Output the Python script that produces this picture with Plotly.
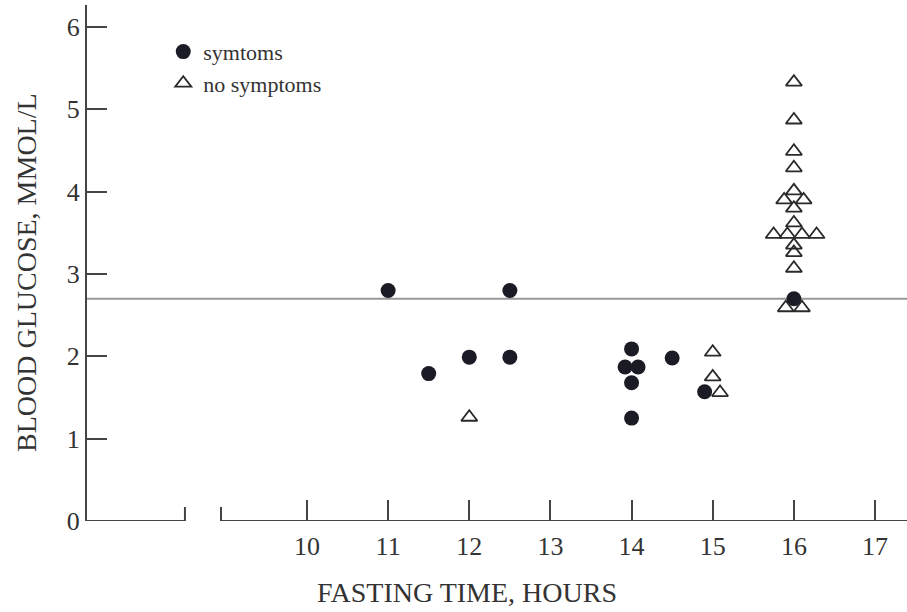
import plotly.graph_objects as go

# ---- data ----
symptoms_x = [11, 11.5, 12, 12.5, 12.5, 13.92, 14, 14, 14, 14.08, 14.5, 14.9, 16]
symptoms_y = [2.8, 1.79, 1.99, 2.8, 1.99, 1.87, 2.09, 1.68, 1.25, 1.87, 1.98, 1.57, 2.7]

no_symptoms_x = [12, 15, 15, 15.09,
                 16, 16, 16, 16, 16, 15.88, 16.12, 16, 16,
                 15.75, 15.92, 16.1, 16.28, 16, 16, 16, 15.9, 16.1]
no_symptoms_y = [1.26, 2.05, 1.75, 1.56,
                 5.33, 4.87, 4.49, 4.29, 4.01, 3.9, 3.9, 3.8, 3.62,
                 3.48, 3.48, 3.48, 3.48, 3.35, 3.26, 3.07, 2.59, 2.59]

threshold = 2.7
x_tick_vals = [10, 11, 12, 13, 14, 15, 16, 17]
y_tick_vals = [0, 1, 2, 3, 4, 5, 6]
x_title = "FASTING TIME, HOURS"
y_title = "BLOOD GLUCOSE, MMOL/L"
legend_names = ["symtoms", "no symptoms"]

# ---- layout constants ----
X_RANGE = [7.289, 17.394]
Y_RANGE = [0, 6.267]
BREAK_LEFT = 8.496
BREAK_RIGHT = 8.94
FONT = "Liberation Serif"
TXT = "#333333"
AX = "#444444"

fig = go.Figure()
fig.add_trace(go.Scatter(
    x=symptoms_x, y=symptoms_y, mode="markers", name=legend_names[0],
    marker=dict(symbol="circle", size=15, color="#1b1b26", line=dict(width=0)),
))
fig.add_trace(go.Scatter(
    x=no_symptoms_x, y=no_symptoms_y, mode="markers", name=legend_names[1],
    marker=dict(symbol="triangle-up-open", size=14, color="#2a2a2a",
                line=dict(width=1.8, color="#2a2a2a")),
))

# threshold line
fig.add_hline(y=threshold, line=dict(color="#999999", width=2), layer="below")

# broken x-axis drawn as two segments with break ticks
shapes = [
    dict(type="line", xref="x", yref="y", x0=X_RANGE[0], x1=BREAK_LEFT, y0=0, y1=0,
         line=dict(color=AX, width=2)),
    dict(type="line", xref="x", yref="y", x0=BREAK_RIGHT, x1=X_RANGE[1], y0=0, y1=0,
         line=dict(color=AX, width=2)),
    dict(type="line", xref="x", yref="y", x0=BREAK_LEFT, x1=BREAK_LEFT, y0=-0.2, y1=0.17,
         line=dict(color=AX, width=2)),
    dict(type="line", xref="x", yref="y", x0=BREAK_RIGHT, x1=BREAK_RIGHT, y0=-0.2, y1=0.17,
         line=dict(color=AX, width=2)),
]
for s in shapes:
    fig.add_shape(**s)

fig.update_xaxes(
    range=X_RANGE, tickvals=x_tick_vals, ticks="inside", ticklen=21, tickwidth=2,
    tickcolor=AX, showline=False, showgrid=False, zeroline=False,
    tickfont=dict(family=FONT, size=26, color=TXT), ticklabelstandoff=7,
)
fig.update_yaxes(
    range=Y_RANGE, tickvals=y_tick_vals, ticks="inside", ticklen=20, tickwidth=2,
    tickcolor=AX, showline=True, linecolor=AX, linewidth=2, showgrid=False,
    zeroline=False, tickfont=dict(family=FONT, size=26, color=TXT),
)

fig.add_annotation(text=x_title, xref="paper", yref="paper", x=0.463, y=-0.1395,
                   xanchor="center", yanchor="middle", showarrow=False,
                   font=dict(family=FONT, size=28, color=TXT))
fig.add_annotation(text=y_title, xref="paper", yref="paper", x=-0.0732, y=0.4826,
                   xanchor="center", yanchor="middle", showarrow=False, textangle=-90,
                   font=dict(family=FONT, size=28, color=TXT))

fig.update_layout(
    width=907, height=612,
    margin=dict(l=87, r=0, t=5, b=91),
    plot_bgcolor="white", paper_bgcolor="white",
    showlegend=True,
    legend=dict(x=0.093, y=0.95, xanchor="left", yanchor="top",
                font=dict(family=FONT, size=22, color=TXT),
                bgcolor="rgba(0,0,0,0)", tracegroupgap=0, itemwidth=30),
)

fig.write_html("out.html")
